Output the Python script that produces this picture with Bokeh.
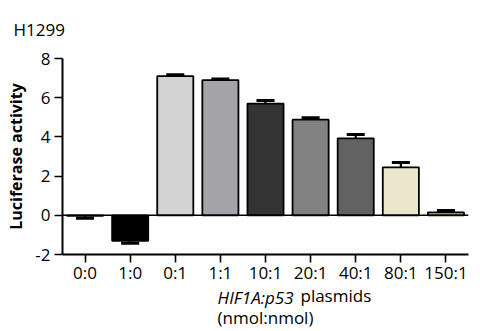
from bokeh.plotting import figure
from bokeh.models import (ColumnDataSource, Range1d, FixedTicker, Whisker,
                          TeeHead, Span, PrintfTickFormatter, LinearAxis)
from bokeh.embed import file_html
from bokeh.resources import INLINE

# ---- data ----
categories = ["0:0", "1:0", "0:1", "1:1", "10:1", "20:1", "40:1", "80:1", "150:1"]
values = [-0.03, -1.30, 7.10, 6.90, 5.70, 4.88, 3.92, 2.45, 0.15]
errors = [0.12, 0.13, 0.07, 0.06, 0.16, 0.10, 0.20, 0.25, 0.10]
fill_colors = ["#ffffff", "#000000", "#d3d3d3", "#a4a4a8", "#333333",
               "#828282", "#626262", "#ebe6cc", "#c8bd8e"]
y_ticks = [-2, 0, 2, 4, 6, 8]
title_text = "H1299"
y_label = "Luciferase activity"
x_label_italic = "HIF1A:p53"
x_label_plain = "plasmids"
x_label_units = "(nmol:nmol)"

FONT = "Open Sans"

xs = list(range(len(categories)))
src = ColumnDataSource(dict(x=xs, top=values, color=fill_colors))

pos = [i for i, v in enumerate(values) if v >= 0]
neg = [i for i, v in enumerate(values) if v < 0]
src_pos = ColumnDataSource(dict(
    x=[xs[i] for i in pos],
    lower=[values[i] for i in pos],
    upper=[values[i] + errors[i] for i in pos]))
src_neg = ColumnDataSource(dict(
    x=[xs[i] for i in neg],
    lower=[values[i] - errors[i] for i in neg],
    upper=[values[i] for i in neg]))

W, H = 480, 331
p = figure(width=W, height=H, x_range=Range1d(-0.5, len(categories) - 0.5),
           y_range=Range1d(-2, 8), output_backend="svg", toolbar_location=None,
           min_border_left=62, min_border_right=12, min_border_top=58, min_border_bottom=0)
p.outline_line_color = None
p.xgrid.grid_line_color = None
p.ygrid.grid_line_color = None
p.background_fill_color = "white"

# title
p.title.text = title_text
p.title.align = "left"
p.title.offset = -49
p.title.vertical_align = "top"
p.title.standoff = 31
p.title.text_font = FONT
p.title.text_font_size = "17px"
p.title.text_font_style = "normal"
p.title.text_color = "black"

p.vbar(x="x", top="top", bottom=0, width=0.8, fill_color="color",
       line_color="black", line_width=1.8, source=src)

p.add_layout(Span(location=0, dimension="width", line_color="black", line_width=1.6))

p.add_layout(Whisker(base="x", upper="upper", lower="lower", source=src_pos,
                     dimension="height", line_width=2.2, line_color="black",
                     upper_head=TeeHead(size=18, line_width=3, line_color="black"),
                     lower_head=None))
p.add_layout(Whisker(base="x", upper="upper", lower="lower", source=src_neg,
                     dimension="height", line_width=2.2, line_color="black",
                     lower_head=TeeHead(size=18, line_width=3, line_color="black"),
                     upper_head=None))

# axes
p.xaxis.ticker = FixedTicker(ticks=xs)
p.xaxis.major_label_overrides = {x: c for x, c in zip(xs, categories)}
p.xaxis.minor_tick_line_color = None
p.yaxis.ticker = FixedTicker(ticks=y_ticks)
p.yaxis.formatter = PrintfTickFormatter(format="%d")
p.yaxis.minor_tick_line_color = None
for ax in (p.xaxis[0], p.yaxis[0]):
    ax.axis_line_width = 2
    ax.axis_line_color = "black"
    ax.major_tick_line_width = 1.6
    ax.major_tick_line_color = "black"
    ax.major_tick_in = 0
    ax.major_tick_out = 8
    ax.major_label_text_font = FONT
    ax.major_label_text_font_size = "17px"
    ax.major_label_text_color = "black"
p.yaxis.major_label_standoff = 4
p.xaxis.major_label_standoff = -2

p.yaxis.axis_label = y_label
p.yaxis.axis_label_text_font = FONT
p.yaxis.axis_label_text_font_size = "16px"
p.yaxis.axis_label_text_font_style = "bold"
p.yaxis.axis_label_text_color = "black"
p.yaxis.axis_label_standoff = 5

# x-axis title, drawn as label-only axes below the category axis
def label_axis(center, text, style, standoff):
    ax = LinearAxis(ticker=FixedTicker(ticks=[center]),
                    major_label_overrides={center: text})
    ax.axis_line_color = None
    ax.major_tick_line_color = None
    ax.minor_tick_line_color = None
    ax.major_tick_out = 0
    ax.major_tick_in = 0
    ax.major_label_standoff = standoff
    ax.major_label_text_font = FONT
    ax.major_label_text_font_size = "17px"
    ax.major_label_text_font_style = style
    ax.major_label_text_color = "black"
    p.add_layout(ax, "below")
    return ax

label_axis(3.78, x_label_italic, "italic", -1)
ax_b = label_axis(5.56, x_label_plain, "normal", -28)
ax_b.axis_label = x_label_units
ax_b.axis_label_text_font = FONT
ax_b.axis_label_text_font_size = "17px"
ax_b.axis_label_text_font_style = "normal"
ax_b.axis_label_text_color = "black"
ax_b.axis_label_standoff = -4

open("out.html", "w").write(file_html(p, INLINE))
